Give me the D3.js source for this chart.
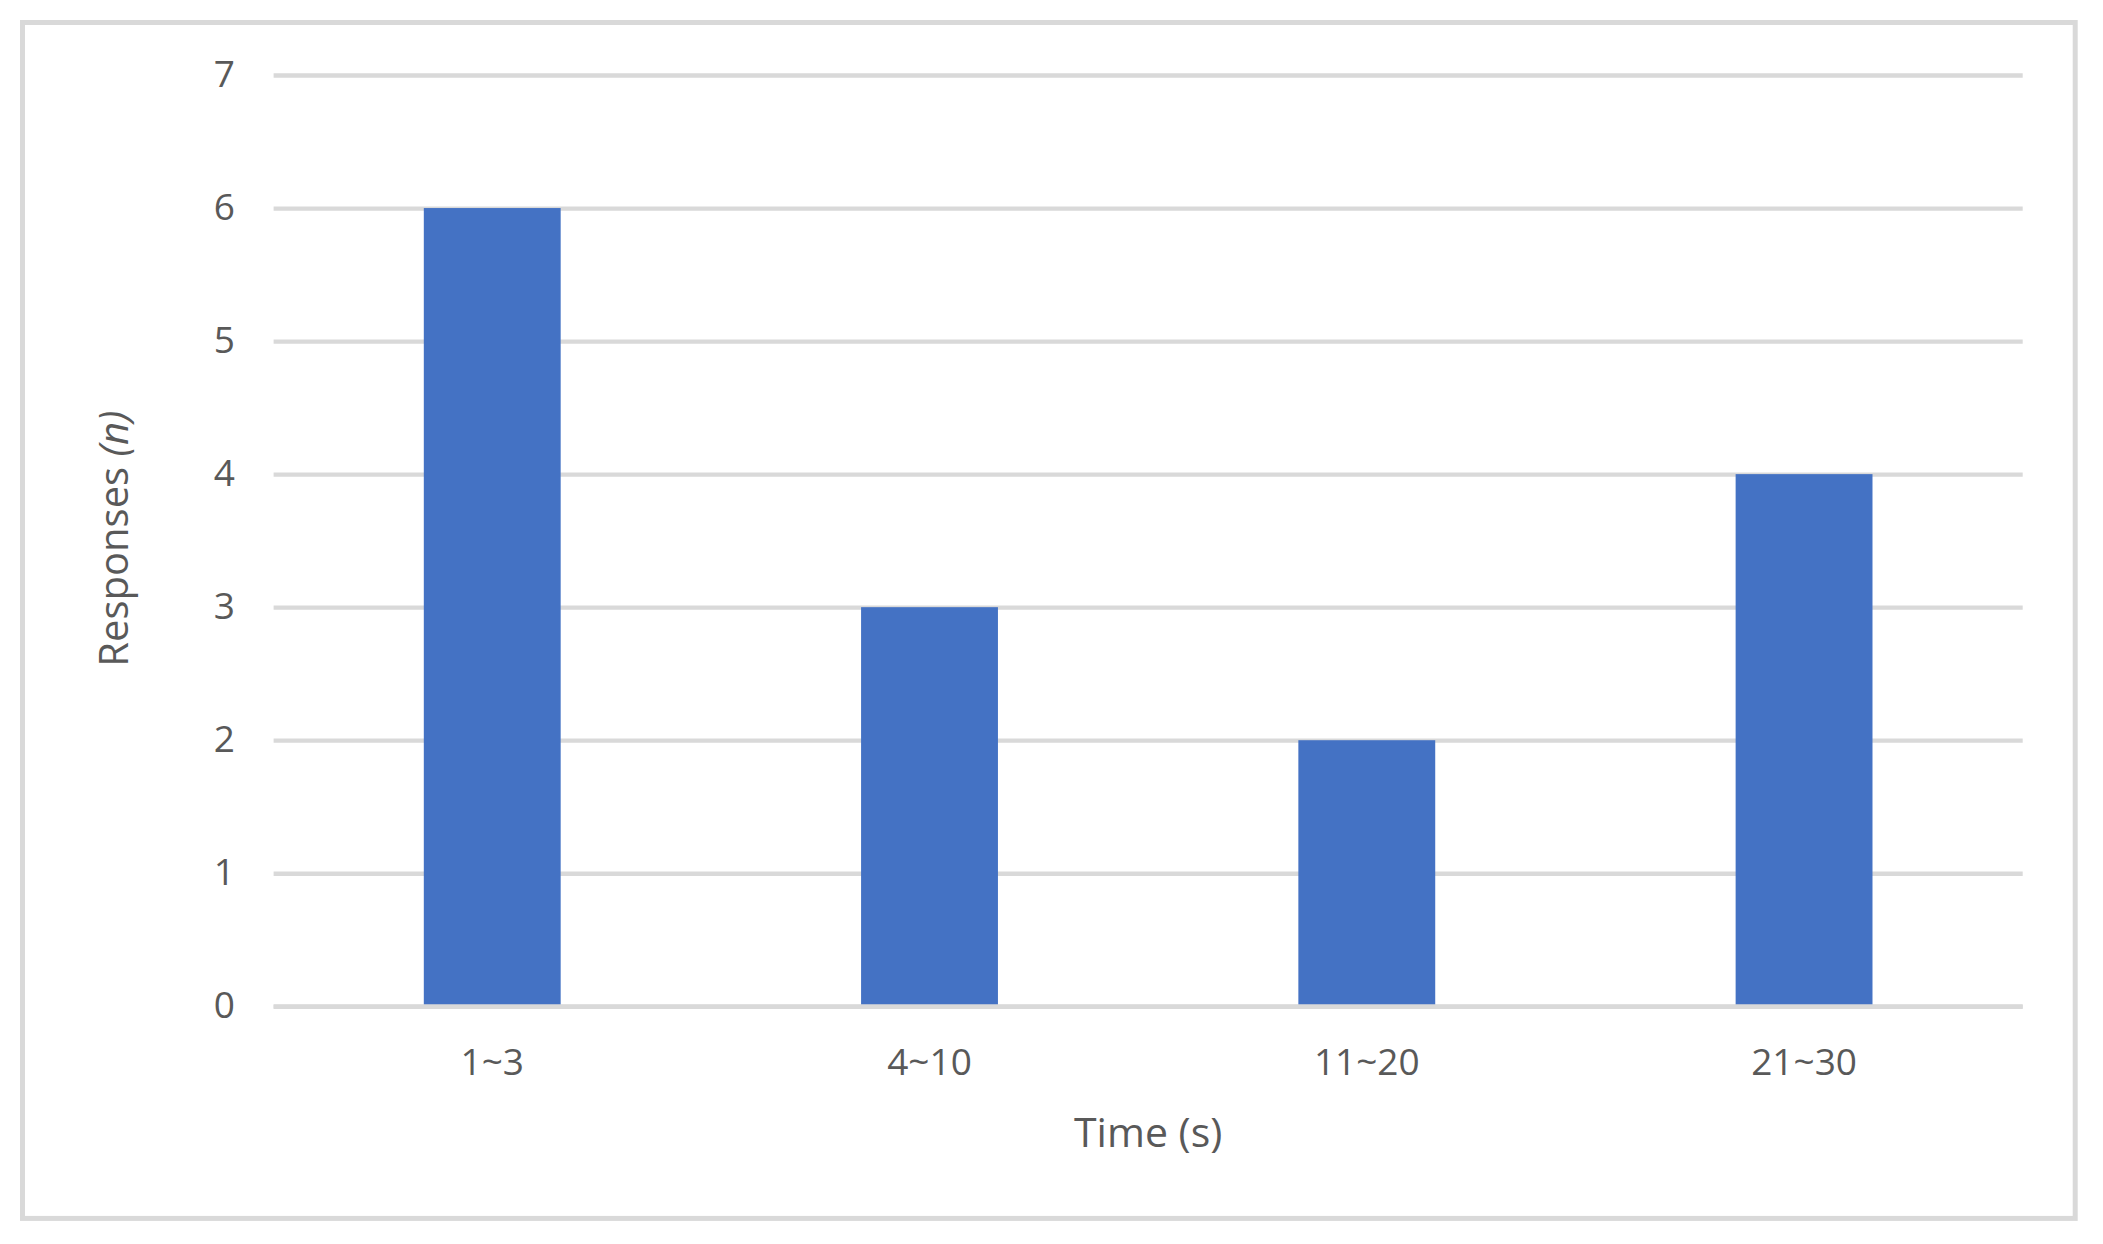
<!DOCTYPE html>
<html>
<head>
<meta charset="utf-8">
<script src="https://cdnjs.cloudflare.com/ajax/libs/d3/7.8.5/d3.min.js"></script>
<style>
  html, body { margin: 0; padding: 0; background: #fff; }
  svg { display: block; }
  text { font-family: "Open Sans", "Noto Sans", sans-serif; fill: #595959; }
</style>
</head>
<body>
<svg id="chart" width="2103" height="1244"></svg>
<script>
const categories = ["1~3", "4~10", "11~20", "21~30"];
const responses = [6, 3, 2, 4];
const yTicks = [0, 1, 2, 3, 4, 5, 6, 7];
const xTitle = "Time (s)";
const yTitle = "Responses ";
const yTitleItalic = "(n)";

const W = 2103, H = 1244;
const plot = { left: 273.6, right: 2022.7, top: 75, bottom: 1006.3 };

const svg = d3.select("#chart");

// outer border
svg.append("rect")
  .attr("x", 22.5).attr("y", 22.5)
  .attr("width", 2075.2 - 22.5).attr("height", 1218.4 - 22.5)
  .attr("fill", "#fff").attr("stroke", "#d9d9d9").attr("stroke-width", 5);

const x = d3.scaleBand().domain(categories)
  .range([plot.left, plot.right])
  .paddingInner(0.687).paddingOuter(0.3435);

const y = d3.scaleLinear().domain([0, 7]).range([plot.bottom, plot.top]);

// y axis with gridlines
const gy = svg.append("g")
  .attr("transform", `translate(${plot.left},0)`)
  .call(d3.axisLeft(y).tickValues(yTicks).tickFormat(d3.format("d"))
    .tickSize(-(plot.right - plot.left)).tickPadding(38.6));
gy.select(".domain").remove();
gy.selectAll(".tick line").attr("stroke", "#d9d9d9").attr("stroke-width", 4.3);
gy.selectAll(".tick text")
  .attr("dy", null).attr("y", 11.5)
  .style("font-size", "37px").attr("fill", "#595959");

// bars
svg.append("g").selectAll("rect")
  .data(categories.map((c, i) => ({ c, v: responses[i] })))
  .join("rect")
  .attr("x", d => x(d.c))
  .attr("width", x.bandwidth())
  .attr("y", d => y(d.v))
  .attr("height", d => y(0) - y(d.v))
  .attr("fill", "#4472c4");

// baseline on top of bars
svg.append("line")
  .attr("x1", plot.left).attr("x2", plot.right)
  .attr("y1", y(0)).attr("y2", y(0))
  .attr("stroke", "#d9d9d9").attr("stroke-width", 4.3);

// x axis labels
const gx = svg.append("g")
  .attr("transform", `translate(0,${plot.bottom})`)
  .call(d3.axisBottom(x).tickSize(0));
gx.select(".domain").remove();
gx.selectAll(".tick text")
  .attr("dy", null).attr("y", 1075 - plot.bottom)
  .style("font-size", "37px").attr("fill", "#595959");

// axis titles
svg.append("text")
  .attr("x", (plot.left + plot.right) / 2).attr("y", 1147)
  .attr("text-anchor", "middle")
  .style("font-size", "41px")
  .text(xTitle);

const yt = svg.append("text")
  .attr("transform", `translate(128,${(plot.top + plot.bottom) / 2 - 2}) rotate(-90)`)
  .attr("text-anchor", "middle")
  .style("font-size", "40px");
yt.append("tspan").text(yTitle);
yt.append("tspan").style("font-style", "italic").text(yTitleItalic);
</script>
</body>
</html>
